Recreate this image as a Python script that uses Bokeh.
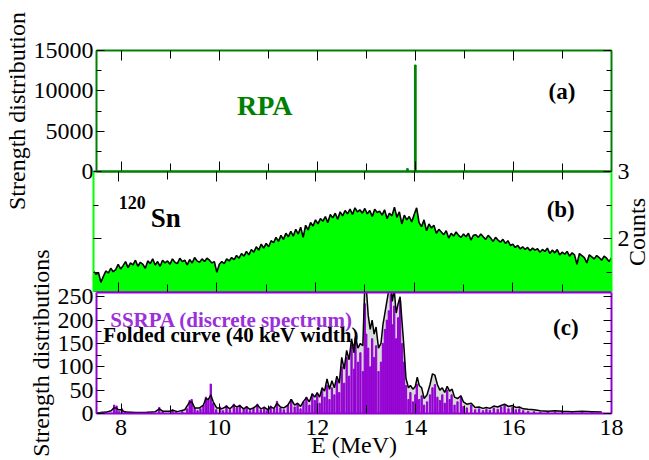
from bokeh.plotting import figure
from bokeh.models import Range1d, LinearAxis, FixedTicker, Label
from bokeh.layouts import column, row
from bokeh.embed import file_html
from bokeh.resources import INLINE

# ---------------- data ----------------
# (a) RPA discrete strength
rpa_e = [13.84, 14.00]
rpa_v = [350, 13200]

# (b) counts histogram, 0.05 MeV bins starting at 7.5 MeV
counts = [
    1.52, 1.47, 1.50, 1.35, 1.44, 1.52, 1.49, 1.56, 1.51, 1.54,
    1.62, 1.55, 1.60, 1.66, 1.57, 1.64, 1.61, 1.68, 1.59, 1.65, 1.62, 1.56, 1.67, 1.63, 1.70, 1.61, 1.66, 1.59, 1.68, 1.64,
    1.67, 1.62, 1.70, 1.65, 1.63, 1.71, 1.66, 1.68, 1.61, 1.69, 1.64, 1.72, 1.67, 1.65, 1.70, 1.66, 1.71, 1.68, 1.64, 1.66,
    1.50, 1.62, 1.66, 1.63, 1.70, 1.67, 1.72, 1.69, 1.75, 1.71, 1.78, 1.74, 1.81, 1.76, 1.84, 1.80, 1.88, 1.83, 1.92, 1.86,
    1.93, 1.88, 1.97, 1.94, 2.02, 1.96, 2.05, 1.99, 2.08, 2.03, 2.11, 2.04, 2.14, 2.07, 2.17, 2.02, 2.20, 2.13, 2.24, 2.19,
    2.28, 2.22, 2.30, 2.26, 2.33, 2.24, 2.36, 2.31, 2.38, 2.29, 2.40, 2.34, 2.42, 2.37, 2.44, 2.36, 2.46, 2.40, 2.43, 2.38,
    2.45, 2.37, 2.42, 2.33, 2.44, 2.39, 2.41, 2.35, 2.43, 2.30, 2.38, 2.34, 2.47, 2.32, 2.40, 2.22, 2.35, 2.28, 2.33, 2.25,
    2.36, 2.46, 2.24, 2.18, 2.28, 2.12, 2.22, 2.16, 2.20, 2.08, 2.14, 2.10, 2.06, 2.12, 2.01, 2.08, 2.04, 2.10, 2.05, 2.02,
    2.07, 2.03, 2.08, 1.98, 2.05, 2.06, 2.02, 2.07, 2.03, 1.99, 2.05, 2.01, 1.96, 2.02, 1.98, 1.95, 1.99, 1.93, 1.97, 1.90,
    1.92, 1.87, 1.90, 1.85, 1.88, 1.84, 1.87, 1.82, 1.86, 1.83, 1.85, 1.80, 1.84, 1.81, 1.86, 1.78, 1.83, 1.79, 1.84, 1.76,
    1.80, 1.77, 1.81, 1.74, 1.79, 1.76, 1.62, 1.78, 1.75, 1.72, 1.64, 1.76, 1.73, 1.70, 1.75, 1.72, 1.68, 1.74, 1.71, 1.66,
    1.72,
]
counts_e = [round(7.5 + 0.05 * i, 2) for i in range(len(counts))]

# (c) SSRPA discrete spectrum
ssrpa_e = [
    7.62, 7.70, 7.86, 7.91, 7.96, 8.02, 8.08, 8.30, 8.55, 8.78, 8.85, 9.05, 9.12, 9.25,
    9.35, 9.40, 9.44, 9.50, 9.56, 9.62, 9.68, 9.73, 9.78, 9.83, 9.88, 9.94,
    10.02, 10.08, 10.15, 10.22, 10.30, 10.36, 10.42, 10.50, 10.56, 10.63, 10.70, 10.78, 10.85,
    10.92, 10.98, 11.05, 11.12, 11.18, 11.25, 11.32, 11.40, 11.47, 11.54, 11.60, 11.66,
    11.72, 11.78, 11.84, 11.90, 11.95, 12.00, 12.05, 12.10, 12.15, 12.20, 12.25, 12.30, 12.35, 12.40, 12.45,
    12.50, 12.55, 12.60, 12.65, 12.70, 12.75, 12.78, 12.83, 12.88, 12.93, 12.97, 13.00, 13.04, 13.08, 13.12,
    13.16, 13.20, 13.25, 13.30, 13.34, 13.38, 13.42, 13.46, 13.50, 13.53, 13.57, 13.61, 13.65, 13.69, 13.73, 13.77,
    13.81, 13.86, 13.90, 13.95, 14.00, 14.03, 14.08, 14.13, 14.18, 14.24, 14.30, 14.35, 14.40, 14.45, 14.50,
    14.55, 14.60, 14.65, 14.70, 14.74, 14.80, 14.86, 14.93, 14.98,
    15.05, 15.14, 15.22, 15.30, 15.38, 15.45, 15.52, 15.60, 15.68, 15.75, 15.82, 15.90, 15.98, 16.05, 16.12,
    16.20, 16.30, 16.42, 16.55, 16.70, 16.85, 17.00, 17.20, 17.40, 17.60, 17.80,
]
ssrpa_v = [
    3, 2, 18, 16, 4, 10, 4, 2, 3, 13, 4, 8, 3, 4,
    10, 28, 30, 12, 6, 10, 18, 35, 30, 63, 22, 8,
    14, 6, 17, 8, 20, 12, 18, 9, 15, 6, 12, 20, 8,
    14, 6, 16, 10, 26, 12, 8, 18, 30, 14, 20, 10,
    25, 35, 18, 42, 28, 40, 22, 50, 35, 60, 30, 55, 40, 70, 45,
    100, 65, 120, 80, 145, 95, 160, 110, 130, 90, 235, 170, 140, 100, 160,
    120, 145, 90, 110, 150, 180, 200, 220, 255, 190, 230, 160, 205, 240, 150, 110,
    60, 30, 45, 25, 40, 63, 30, 38, 18, 25, 40, 55, 62, 35, 28,
    40, 22, 50, 30, 40, 18, 25, 37, 15,
    12, 18, 8, 10, 6, 9, 7, 12, 9, 14, 18, 10, 13, 8, 10,
    6, 5, 4, 3, 3, 2, 3, 2, 2, 2, 1,
]

# (c) folded curve (40 keV width)
fold_e = [
    7.50, 7.60, 7.70, 7.80, 7.85, 7.90, 7.95, 8.00, 8.05, 8.10, 8.30, 8.50, 8.70, 8.78, 8.85, 9.00, 9.05, 9.15, 9.30,
    9.40, 9.45, 9.50, 9.60, 9.68, 9.73, 9.78, 9.83, 9.88, 9.95,
    10.00, 10.05, 10.15, 10.22, 10.30, 10.36, 10.42, 10.50, 10.56, 10.63, 10.70, 10.78, 10.85,
    10.92, 11.00, 11.05, 11.12, 11.18, 11.25, 11.32, 11.40, 11.47, 11.54, 11.60, 11.66,
    11.72, 11.78, 11.84, 11.90, 11.95, 12.00, 12.05, 12.10, 12.15, 12.20, 12.25, 12.30, 12.35, 12.40, 12.45,
    12.50, 12.55, 12.60, 12.65, 12.70, 12.75, 12.78, 12.83, 12.88, 12.93, 12.97, 13.00, 13.04, 13.08, 13.12,
    13.16, 13.20, 13.25, 13.30, 13.34, 13.38, 13.42, 13.46, 13.50, 13.53, 13.57, 13.61, 13.65, 13.69, 13.73, 13.77,
    13.81, 13.86, 13.90, 13.95, 14.00, 14.04, 14.08, 14.13, 14.18, 14.24, 14.30, 14.35, 14.40, 14.45, 14.50,
    14.55, 14.60, 14.65, 14.70, 14.75, 14.80, 14.86, 14.93, 14.98,
    15.05, 15.14, 15.22, 15.30, 15.38, 15.45, 15.52, 15.60, 15.68, 15.75, 15.82, 15.90, 15.98, 16.05, 16.12,
    16.20, 16.30, 16.42, 16.55, 16.70, 16.85, 17.00, 17.20, 17.40, 17.60, 17.80,
]
fold_v = [
    1, 2, 3, 6, 12, 12, 8, 8, 5, 3, 2, 2, 4, 10, 5, 5, 7, 4, 8,
    25, 24, 12, 12, 18, 32, 30, 40, 25, 12,
    12, 10, 15, 10, 18, 14, 17, 10, 14, 9, 12, 18, 10,
    13, 8, 14, 11, 22, 14, 12, 18, 30, 18, 22, 15,
    26, 34, 25, 42, 35, 45, 35, 55, 48, 74, 52, 70, 55, 80, 65,
    120, 95, 135, 115, 160, 130, 165, 140, 150, 145, 275, 270, 210, 180, 200,
    170, 185, 140, 150, 190, 215, 240, 265, 275, 240, 265, 215, 235, 250, 195, 140,
    75, 55, 60, 52, 58, 78, 60, 55, 32, 40, 62, 85, 82, 62, 50,
    55, 45, 58, 48, 52, 35, 32, 38, 25,
    20, 22, 13, 14, 11, 13, 11, 16, 14, 17, 20, 15, 17, 13, 14,
    10, 9, 8, 6, 5, 6, 5, 4, 5, 4, 3,
]

# tick positions
x_major = [8, 10, 12, 14, 16, 18]
x_minor = [9, 11, 13, 15, 17]
a_major = [0, 5000, 10000, 15000]
a_minor = [2500, 7500, 12500]
b_major = [2, 3]
b_minor = [1.5, 2.5]
c_major = [0, 50, 100, 150, 200, 250]
c_minor = [25, 75, 125, 175, 225]

# ---------------- style / layout ----------------
FONT = "Liberation Serif"
GREEN_D = "#008000"
GREEN_L = "#00ff00"
PURPLE = "#9400d3"
PURPLE_T = "#9b30d9"

W = 649
LB, RB = 93, 38
TOP_A, FH, BOT_A = 50, 121, 46
TOP_B, BOT_B = 12, 0
TOP_C, BOT_C = 60, 47
CW = 28  # width of the small strip holding the "Counts" title

xr = Range1d(7.5, 18.0)


def base(width, height, top, bottom, left, right, yr, opaque):
    p = figure(width=width, height=height, x_range=xr, y_range=yr, title=None,
               output_backend="svg", toolbar_location=None,
               x_axis_location=None, y_axis_location=None,
               min_border_left=left, min_border_right=right,
               min_border_top=top, min_border_bottom=bottom)
    p.grid.visible = False
    p.outline_line_color = None
    if opaque:
        p.background_fill_color = "white"
        p.border_fill_color = "white"
    else:
        p.background_fill_color = None
        p.border_fill_color = None
    return p


def bare_axis(p, side, major, minor, color, lens=(10, 8), ticks=True):
    """Axis line + inward ticks, no tick labels (two stacked zero-size axes)."""
    specs = [(major, lens[0], color), (minor, lens[1], None)] if ticks else [([], 0, color)]
    for pos, ln, line_color in specs:
        ax = LinearAxis(ticker=FixedTicker(ticks=[], minor_ticks=pos))
        ax.axis_line_color = line_color
        ax.axis_line_width = 2
        ax.major_tick_line_color = None
        ax.minor_tick_line_color = "black" if ticks else None
        ax.minor_tick_line_width = 1
        ax.minor_tick_in, ax.minor_tick_out = ln, 0
        ax.major_tick_in, ax.major_tick_out = 0, 0
        ax.major_label_standoff = 0
        p.add_layout(ax, side)


def label_axis(p, side, major, minor, color, lens=(8, 5), standoff=3):
    ax = LinearAxis(ticker=FixedTicker(ticks=major, minor_ticks=minor))
    ax.axis_line_color = color
    ax.axis_line_width = 2
    ax.major_tick_line_color = "black"
    ax.minor_tick_line_color = "black"
    ax.major_tick_line_width = 1
    ax.minor_tick_line_width = 1
    ax.major_tick_in, ax.major_tick_out = lens[0], 0
    ax.minor_tick_in, ax.minor_tick_out = lens[1], 0
    ax.major_label_text_font = FONT
    ax.major_label_text_font_size = "24px"
    ax.major_label_text_color = "black"
    ax.major_label_standoff = standoff
    p.add_layout(ax, side)
    return ax


def axis_title(ax, text, size, standoff):
    ax.axis_label = text
    ax.axis_label_text_font = FONT
    ax.axis_label_text_font_size = size
    ax.axis_label_text_font_style = "normal"
    ax.axis_label_text_color = "black"
    ax.axis_label_standoff = standoff


def txt(p, x, y, text, size, color="black", align="left"):
    p.add_layout(Label(x=x, y=y, text=text, text_font=FONT, text_font_size=size,
                       text_font_style="bold", text_color=color,
                       text_align=align, text_baseline="alphabetic"))


# ---- panel (a)
pa = base(W, TOP_A + FH + BOT_A, TOP_A, BOT_A, LB, RB, Range1d(0, 15000), True)
pa.vbar(x=rpa_e, top=rpa_v, bottom=0, width=0.035, color=GREEN_D)
ya = label_axis(pa, "left", a_major, a_minor, GREEN_D)
axis_title(ya, "Strength distribution", "24px", 1)
bare_axis(pa, "right", a_major, a_minor, GREEN_D, lens=(8, 5))
bare_axis(pa, "above", x_major, x_minor, GREEN_D)
bare_axis(pa, "below", x_major, x_minor, GREEN_D)
txt(pa, 10.93, 8200, "RPA", "28px", color=GREEN_D, align="center")
txt(pa, 16.99, 9900, "(a)", "23px", align="center")

# ---- panel (b)
yr_b = Range1d(1.2, 3.0)
pb = base(W, TOP_B + FH + BOT_B, TOP_B, BOT_B, LB, RB, yr_b, False)
pb.varea(x=counts_e, y1=0, y2=counts, fill_color=GREEN_L)
pb.line(counts_e, counts, line_color="black", line_width=1.6)
bare_axis(pb, "left", b_major, b_minor, GREEN_L, lens=(8, 5))
label_axis(pb, "right", b_major, b_minor, GREEN_L, standoff=6)
bare_axis(pb, "above", x_major, x_minor, GREEN_D)
bare_axis(pb, "below", x_major, x_minor, PURPLE)
txt(pb, 8.01, 2.535, "120", "18px")
txt(pb, 8.66, 2.31, "Sn", "27px")
txt(pb, 16.97, 2.44, "(b)", "23px", align="center")

# strip carrying the right-hand "Counts" title (reads bottom-to-top)
pcnt = base(CW, TOP_B + FH + BOT_B, TOP_B, BOT_B, CW - 1, 0, yr_b, False)
cax = LinearAxis(ticker=FixedTicker(ticks=[], minor_ticks=[]))
cax.axis_line_color = None
cax.major_tick_line_color = None
cax.minor_tick_line_color = None
cax.major_label_standoff = 0
axis_title(cax, "Counts", "24px", 0)
pcnt.add_layout(cax, "left")
pcnt.margin = (0, 0, 0, -CW)

row_b = row(pb, pcnt, spacing=0)
row_b.margin = (-(BOT_A + TOP_B), 0, 0, 0)

# ---- panel (c)
pc = base(W, TOP_C + FH + BOT_C, TOP_C, BOT_C, LB, RB, Range1d(0, 259), False)
pc.varea(x=fold_e, y1=0, y2=fold_v, fill_color="#d9d9d9")
pc.vbar(x=ssrpa_e, top=ssrpa_v, bottom=0, width=0.026, color=PURPLE)
pc.line(fold_e, fold_v, line_color="black", line_width=1.5)
yc = label_axis(pc, "left", c_major, c_minor, PURPLE)
axis_title(yc, "Strength distributions", "24px", 1)
bare_axis(pc, "right", c_major, c_minor, PURPLE, lens=(8, 5))
bare_axis(pc, "above", [], [], PURPLE, ticks=False)
xc = label_axis(pc, "below", x_major, x_minor, PURPLE, lens=(10, 8), standoff=6)
axis_title(xc, "E (MeV)", "24px", -6)
txt(pc, 7.78, 201, "SSRPA (discrete spectrum)", "21px", color=PURPLE_T)
txt(pc, 7.64, 167, "Folded curve (40 keV width)", "21px")
txt(pc, 17.07, 185, "(c)", "23px", align="center")
pc.margin = (-(BOT_B + TOP_C), 0, 0, 0)

layout = column(pa, row_b, pc, spacing=0)
open("out.html", "w").write(file_html(layout, INLINE))
